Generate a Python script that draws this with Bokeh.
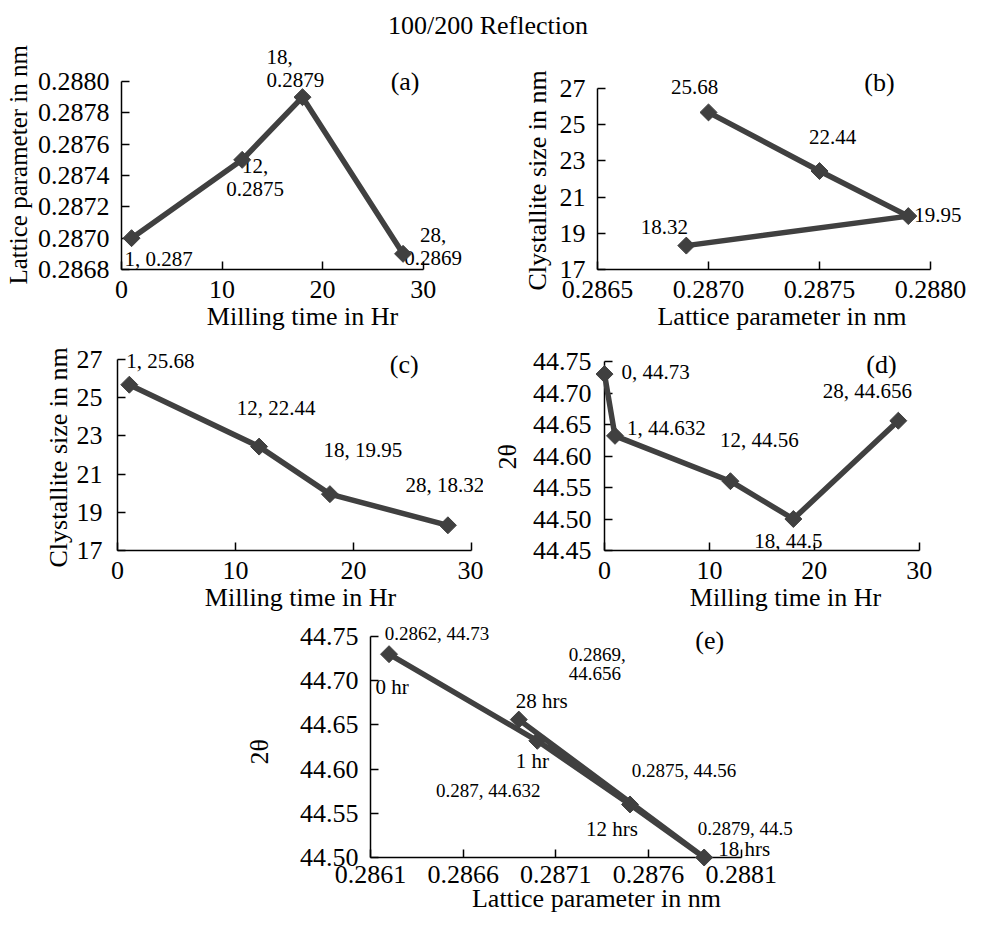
import numpy as np
from bokeh.plotting import figure
from bokeh.models import (ColumnDataSource, LabelSet, Label, FixedTicker,
                          PrintfTickFormatter, Range1d, Div, Spacer, Title)
from bokeh.layouts import column, row
from bokeh.core.properties import value, field
from bokeh.embed import file_html
from bokeh.resources import INLINE

FONT = "Liberation Serif"
INK = "#404040"

# ---------------- data ----------------
# (a) lattice parameter vs milling time
a_time = [1, 12, 18, 28]
a_lattice = [0.2870, 0.2875, 0.2879, 0.2869]
a_labels = ["1, 0.287", "12,\n0.2875", "18,\n0.2879", "28,\n0.2869"]
a_xticks = [0, 10, 20, 30]
a_yticks = [0.2868, 0.2870, 0.2872, 0.2874, 0.2876, 0.2878, 0.2880]

# (b) crystallite size vs lattice parameter
b_lattice = [0.2870, 0.2875, 0.2879, 0.2869]
b_size = [25.68, 22.44, 19.95, 18.32]
b_labels = ["25.68", "22.44", "19.95", "18.32"]
b_xticks = [0.2865, 0.2870, 0.2875, 0.2880]
b_yticks = [17, 19, 21, 23, 25, 27]

# (c) crystallite size vs milling time
c_time = [1, 12, 18, 28]
c_size = [25.68, 22.44, 19.95, 18.32]
c_labels = ["1, 25.68", "12, 22.44", "18, 19.95", "28, 18.32"]
c_xticks = [0, 10, 20, 30]
c_yticks = [17, 19, 21, 23, 25, 27]

# (d) 2theta vs milling time
d_time = [0, 1, 12, 18, 28]
d_theta = [44.73, 44.632, 44.56, 44.5, 44.656]
d_labels = ["0, 44.73", "1, 44.632", "12, 44.56", "18, 44.5", "28, 44.656"]
d_xticks = [0, 10, 20, 30]
d_yticks = [44.45, 44.50, 44.55, 44.60, 44.65, 44.70, 44.75]

# (e) 2theta vs lattice parameter
e_lattice = [0.2862, 0.2870, 0.2875, 0.2879, 0.2869]
e_theta = [44.73, 44.632, 44.56, 44.5, 44.656]
e_hours = ["0 hr", "1 hr", "12 hrs", "18 hrs", "28 hrs"]
e_values = ["0.2862, 44.73", "0.287, 44.632", "0.2875, 44.56",
            "0.2879, 44.5", "0.2869,\n44.656"]
e_xticks = [0.2861, 0.2866, 0.2871, 0.2876, 0.2881]
e_yticks = [44.50, 44.55, 44.60, 44.65, 44.70, 44.75]


# ---------------- helpers ----------------
def make_panel(width, height, left, bottom, axis_w, axis_h, xr, yr,
               xticks, yticks, xfmt, yfmt, xlabel, ylabel, xstand, ystand,
               ylab_size, ylab_standoff, ylab_offset):
    # the frame runs to the right and top edges of the figure so that the
    # data labels are never clipped; the axes are bounded to their ranges
    frame_w = width - left
    frame_h = height - bottom
    x_end = xr[0] + (xr[1] - xr[0]) * frame_w / axis_w
    y_end = yr[0] + (yr[1] - yr[0]) * frame_h / axis_h
    p = figure(width=width, height=height, output_backend="svg",
               toolbar_location=None, title_location="left",
               x_range=Range1d(xr[0], x_end), y_range=Range1d(yr[0], y_end),
               min_border_left=left, min_border_right=0,
               min_border_top=0, min_border_bottom=bottom)
    # vertical axis title (placed as a left-side title so it can be shifted)
    p.title = Title(text=ylabel, align="left", offset=ylab_offset,
                    standoff=ylab_standoff, text_font=FONT,
                    text_font_size=ylab_size, text_font_style="normal",
                    text_color="black")
    p.outline_line_color = None
    p.grid.visible = False
    p.xaxis.ticker = FixedTicker(ticks=xticks)
    p.yaxis.ticker = FixedTicker(ticks=yticks)
    p.xaxis.formatter = PrintfTickFormatter(format=xfmt)
    p.yaxis.formatter = PrintfTickFormatter(format=yfmt)
    p.xaxis.axis_label = xlabel
    p.xaxis.bounds = tuple(xr)
    p.yaxis.bounds = tuple(yr)
    for ax in (p.xaxis, p.yaxis):
        ax.axis_line_color = "black"
        ax.axis_line_width = 1.5
        ax.major_tick_line_color = "black"
        ax.major_tick_line_width = 1.5
        ax.major_tick_in = 8
        ax.major_tick_out = 0
        ax.minor_tick_line_color = None
        ax.major_label_text_font = FONT
        ax.major_label_text_font_size = "26px"
        ax.major_label_text_color = "black"
        ax.axis_label_text_font = FONT
        ax.axis_label_text_font_size = "26px"
        ax.axis_label_text_font_style = "normal"
        ax.axis_label_text_color = "black"
    p.xaxis.major_label_standoff = xstand[0]
    p.xaxis.axis_label_standoff = xstand[1]
    p.yaxis.major_label_standoff = ystand
    return p


def draw_series(p, xs, ys):
    src = ColumnDataSource(dict(x=xs, y=ys))
    r1 = p.line("x", "y", source=src, line_color=INK, line_width=5.5,
                line_join="round")
    r2 = p.scatter("x", "y", source=src, marker="square", angle=np.pi / 4,
                   size=12, fill_color=INK, line_color=INK)
    r1.level = "overlay"
    r2.level = "overlay"


def add_labels(p, xs, ys, texts, offsets, size_px, spacing):
    # every line of a (possibly two-line) data label is placed on its own,
    # so that each line can be centred or left-aligned like the original
    cx, cy, ct, cdx, cdy, cal = [], [], [], [], [], []
    for x, y, t, (dx, dy, al) in zip(xs, ys, texts, offsets):
        lines = t.split("\n")
        n = len(lines)
        for i, line in enumerate(lines):
            cx.append(x)
            cy.append(y)
            ct.append(line)
            cdx.append(dx)
            cdy.append(dy + ((n - 1) / 2 - i) * spacing)
            cal.append(al)
    src = ColumnDataSource(dict(x=cx, y=cy, t=ct, dx=cdx, dy=cdy, al=cal))
    ls = LabelSet(x="x", y="y", text="t", x_offset="dx", y_offset="dy",
                  text_align=field("al"), source=src,
                  text_font=value(FONT), text_font_size=f"{size_px}px",
                  text_baseline="middle", text_color="black")
    p.add_layout(ls)


def add_tag(p, x, y, text):
    p.add_layout(Label(x=x, y=y, text=text, text_font=FONT,
                       text_font_size="26px", text_align="center",
                       text_baseline="middle", text_color="black"))


# ---------------- panels ----------------
# title: y 8..41, row 1: 41..338, row 2: 338..618, row 3: 618..919
pa = make_panel(483, 297, 117, 71, 305, 188, (0, 30), (0.2868, 0.2880),
                a_xticks, a_yticks, "%d", "%.4f",
                "Milling time in Hr", "Lattice parameter in nm",
                (11, 1), 12, "25px", 5, -15)
draw_series(pa, a_time, a_lattice)
add_labels(pa, a_time, a_lattice, a_labels,
           [(-7, -21, "left"), (13, -18, "center"), (-36, 29, "left"),
            (30, 7, "center")], 21, 23)
add_tag(pa, 28.2, 0.28800, "(a)")

pb = make_panel(483, 297, 114, 71, 333, 181, (0.2865, 0.2880), (17, 27),
                b_xticks, b_yticks, "%.4f", "%d",
                "Lattice parameter in nm", "Clystallite size in nm",
                (11, 1), 12, "26px", 10, -21)
draw_series(pb, b_lattice, b_size)
add_labels(pb, b_lattice, b_size, b_labels,
           [(-14, 25, "center"), (13, 34, "center"), (6, 1, "left"),
            (-22, 19, "center")], 21, 23)
add_tag(pb, 0.28777, 27.33, "(b)")

pc = make_panel(483, 280, 117, 70, 354, 191, (0, 30), (17, 27),
                c_xticks, c_yticks, "%d", "%d",
                "Milling time in Hr", "Clystallite size in nm",
                (11, 1), 15, "26px", 1, -17)
draw_series(pc, c_time, c_size)
add_labels(pc, c_time, c_size, c_labels,
           [(31, 24, "center"), (17, 39, "center"), (33, 44, "center"),
            (-3, 40, "center")], 21, 23)
add_tag(pc, 24.3, 26.74, "(c)")

pd_ = make_panel(483, 280, 115, 70, 320, 189, (0, 30), (44.45, 44.75),
                 d_xticks, d_yticks, "%d", "%.2f",
                 "Milling time in Hr", "2θ",
                 (11, 1), 13, "26px", 15, 81)
draw_series(pd_, d_time, d_theta)
add_labels(pd_, d_time, d_theta, d_labels,
           [(17, 2, "left"), (12, 8, "left"), (29, 41, "center"),
            (-5, -22, "center"), (-31, 30, "center")], 21, 23)
add_tag(pd_, 26.4, 44.745, "(d)")

pe = make_panel(602, 301, 146, 64, 374, 221, (0.2861, 0.2881), (44.50, 44.75),
                e_xticks, e_yticks, "%.4f", "%.2f",
                "Lattice parameter in nm", "2θ",
                (8, -2), 12, "26px", 45, 93)
draw_series(pe, e_lattice, e_theta)
add_labels(pe, e_lattice, e_theta, e_hours,
           [(3, -33, "center"), (-5, -20, "center"), (-18, -25, "center"),
            (14, 9, "left"), (23, 19, "center")], 21, 23)
add_labels(pe, e_lattice, e_theta, e_values,
           [(48, 21, "center"), (-49, -50, "center"), (54, 34, "center"),
            (41, 29, "center"), (50, 56, "left")], 19, 19)
add_tag(pe, 0.28793, 44.746, "(e)")

title = Div(text="100/200 Reflection", width=966, height=33,
            styles={"font-family": FONT, "font-size": "26px",
                    "text-align": "center", "line-height": "42px",
                    "color": "black"})

layout = column(title,
                row(pa, pb),
                row(pc, pd_),
                row(Spacer(width=220, height=301), pe))

open("out.html", "w").write(file_html(layout, INLINE))
